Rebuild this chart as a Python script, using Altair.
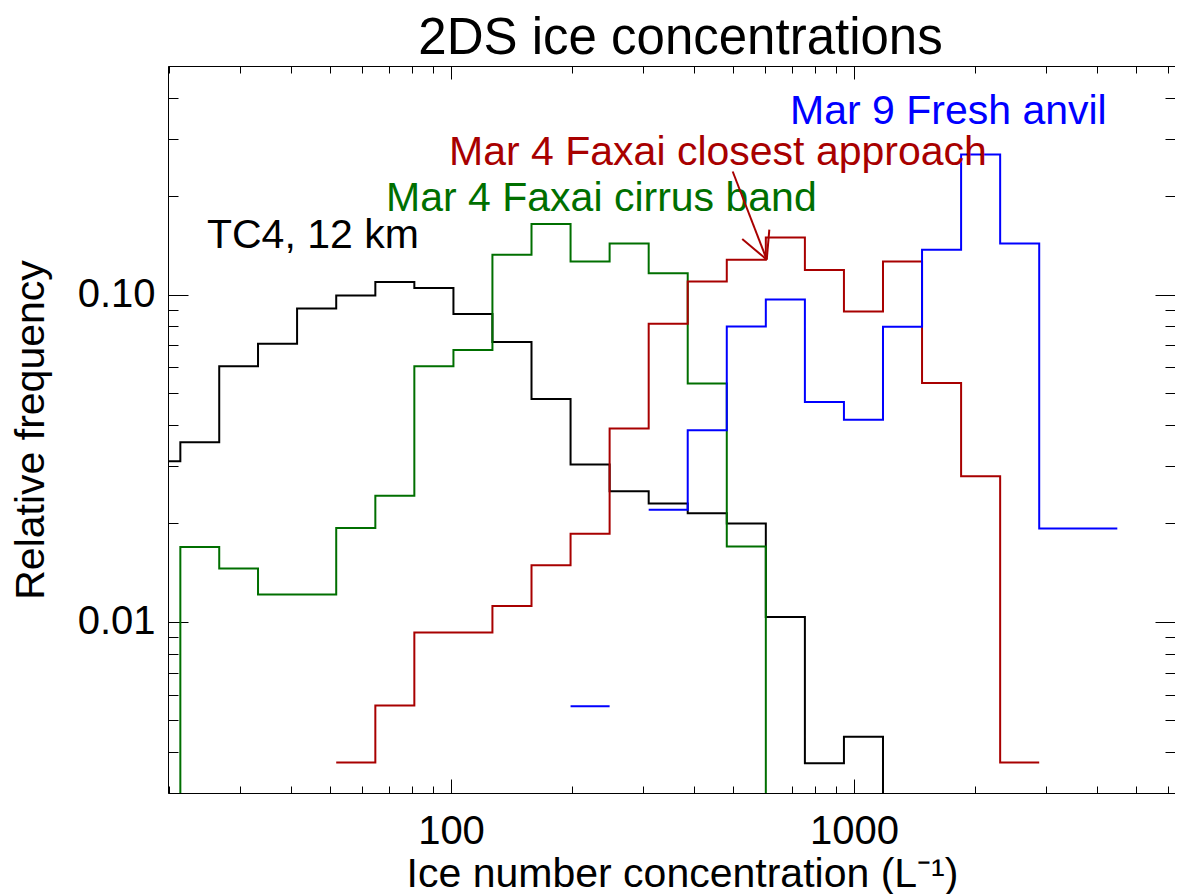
import altair as alt
import pandas as pd

FONT = "Liberation Sans"

# bin edges (L^-1), log-spaced
EDGES = [17.0, 21.3, 26.6, 33.2, 41.5, 51.9, 64.9, 81.1, 101.4, 126.7, 158.4,
         198.0, 247.5, 309.4, 386.7, 483.4, 604.2, 755.3, 944.1, 1180.1,
         1475.1, 1843.9, 2304.9, 2881.1, 3601.4, 4501.7]

SERIES = ["TC4, 12 km", "Mar 4 Faxai cirrus band",
          "Mar 4 Faxai closest approach", "Mar 9 Fresh anvil"]
COLORS = ["#000000", "#006f00", "#a80000", "#0000ff"]

# relative frequency per bin (None = no data; 0.001 = below plotted range)
TC4 = [0.031, 0.0354, 0.0604, 0.0708, 0.0908, 0.0995, 0.1093, 0.1048, 0.0873,
       0.0717, 0.048, 0.0303, 0.0251, 0.0230, 0.0215, 0.0200, 0.01036, 0.0037,
       0.00446, 0.001, None, None, None, None, None]
CIRRUS = [0.001, 0.01695, 0.01455, 0.01212, 0.01212, 0.01937, 0.0243, 0.0604,
          0.0678, 0.1325, 0.1644, 0.1264, 0.1434, 0.1162, 0.0535, 0.0170, 0.001,
          None, None, None, None, None, None, None, None]
CLOSEST = [None, None, None, None, None, 0.00372, 0.00555, 0.00928, 0.00928,
           0.01119, 0.01489, 0.01861, 0.0390, 0.0815, 0.1098, 0.128, 0.1496,
           0.119, 0.0889, 0.1264, 0.0537, 0.02785, 0.00372, None, None]
ANVIL = [None, None, None, None, None, None, None, None, None, None, None,
         0.00552, None, 0.02203, 0.0385, 0.080, 0.0966, 0.047, 0.0415, 0.0798,
         0.1372, 0.2684, 0.1434, 0.0193, 0.0193]

# annotation labels (start x, baseline y in data units)
LABEL_X = [24.8, 69.0, 98.9, 693.8]
LABEL_Y = [0.1392, 0.1806, 0.2496, 0.333]

# arrow: segments ending at the tip
ARROW_X = [500.0, 528.0, 616.4]
ARROW_Y = [0.238, 0.148, 0.158]
ARROW_TIP_X = [607.4, 607.4, 607.4]
ARROW_TIP_Y = [0.128, 0.128, 0.128]

X_TICKS = [m * 10 ** e for e in (1, 2, 3) for m in range(1, 10) if 19 < m * 10 ** e < 6250]
Y_TICKS = [round(m * 10 ** e, 4) for e in (-3, -2, -1) for m in range(1, 10) if 0.0029 < m * 10 ** e < 0.51]

W, H = 1007, 727

rows = []
for name, vals in zip(SERIES, [TC4, CIRRUS, CLOSEST, ANVIL]):
    seg = 0
    run = []
    for i, v in enumerate(vals + [None]):
        if v is None:
            if run:
                for j in run:
                    rows.append({"series": name, "seg": f"{name}-{seg}", "x": EDGES[j], "y": vals[j]})
                last = run[-1]
                rows.append({"series": name, "seg": f"{name}-{seg}", "x": EDGES[last + 1], "y": vals[last]})
                seg += 1
                run = []
        else:
            run.append(i)
df = pd.DataFrame(rows)

ann = pd.DataFrame({"series": SERIES, "label": SERIES, "x": LABEL_X, "y": LABEL_Y})
arr = pd.DataFrame({"x": ARROW_X, "y": ARROW_Y, "x2": ARROW_TIP_X, "y2": ARROW_TIP_Y})

xs = alt.Scale(type="log", domain=[19.85, 6259], nice=False)
ys = alt.Scale(type="log", domain=[0.003, 0.5], nice=False)
cs = alt.Scale(domain=SERIES, range=COLORS)

MAJOR = "abs(log(datum.value)/LN10 - round(log(datum.value)/LN10)) < 0.001"


def tick_axis(orient, values, major, minor, offset):
    return alt.Axis(orient=orient, offset=offset, values=values, labels=False,
                    domain=False, grid=False, title=None, ticks=True,
                    tickColor="black", tickWidth=1,
                    tickSize={"condition": {"test": MAJOR, "value": major}, "value": minor})


lines = alt.Chart(df).mark_line(interpolate="step-after", clip=True, strokeWidth=2).encode(
    x=alt.X("x:Q", scale=xs, axis=alt.Axis(
        orient="bottom", values=[100, 1000], format="d", ticks=False, tickSize=0,
        domain=False, grid=False, labelFont=FONT, labelFontSize=40, labelColor="black",
        labelPadding=18, title="Ice number concentration (L⁻¹)", titleFont=FONT,
        titleFontSize=41, titleFontWeight="normal", titleColor="black",
        titleX=514, titleY=93, titleBaseline="alphabetic", titleAlign="center")),
    y=alt.Y("y:Q", scale=ys, axis=alt.Axis(
        orient="left", values=[0.01, 0.1], format=".2f", ticks=False, tickSize=0,
        domain=False, grid=False, labelFont=FONT, labelFontSize=40, labelColor="black",
        labelPadding=13, title="Relative frequency", titleFont=FONT, titleFontSize=41,
        titleFontWeight="normal", titleColor="black", titleAngle=270,
        titleX=-125, titleY=363.5, titleBaseline="alphabetic", titleAlign="center")),
    color=alt.Color("series:N", scale=cs, legend=None),
    detail="seg:N",
)

texts = alt.Chart(ann).mark_text(align="left", baseline="alphabetic", font=FONT, fontSize=41).encode(
    x=alt.X("x:Q", scale=xs, axis=tick_axis("top", X_TICKS, 14, 7, -H)),
    y=alt.Y("y:Q", scale=ys, axis=tick_axis("right", Y_TICKS, 20, 10, -W)),
    text="label:N",
    color=alt.Color("series:N", scale=cs, legend=None),
)

arrow = alt.Chart(arr).mark_rule(color=COLORS[2], strokeWidth=2).encode(
    x=alt.X("x:Q", scale=xs, axis=tick_axis("bottom", X_TICKS, 13, 7, -H)),
    y=alt.Y("y:Q", scale=ys, axis=tick_axis("left", Y_TICKS, 20, 10, -W)),
    x2="x2:Q",
    y2="y2:Q",
)

chart = alt.layer(lines, texts, arrow).resolve_axis(
    x="independent", y="independent"
).properties(
    width=W, height=H,
    title=alt.TitleParams("2DS ice concentrations", font=FONT, fontSize=51,
                          fontWeight="normal", color="black", anchor="middle",
                          frame="group", dx=9, dy=53, offset=14, baseline="alphabetic"),
    padding={"left": 160, "top": 58, "right": 0, "bottom": 101},
    autosize=alt.AutoSizeParams(type="none"),
    background="white",
).configure_view(stroke="black", strokeWidth=1)

chart.save("out.html", embed_options={"renderer": "svg", "actions": False})
